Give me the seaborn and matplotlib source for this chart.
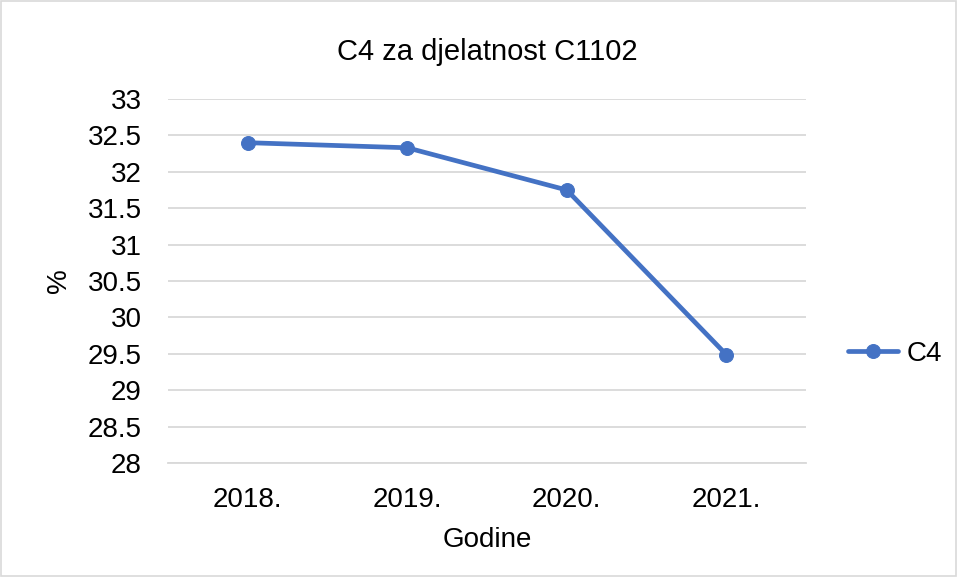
import seaborn as sns
import matplotlib.pyplot as plt
import pandas as pd
from matplotlib.patches import Rectangle

# data
years = ["2018.", "2019.", "2020.", "2021."]
c4_values = [32.40, 32.33, 31.75, 29.49]
y_ticks = [28, 28.5, 29, 29.5, 30, 30.5, 31, 31.5, 32, 32.5, 33]
y_tick_labels = ["28", "28.5", "29", "29.5", "30", "30.5", "31", "31.5", "32", "32.5", "33"]

df = pd.DataFrame({"Godine": years, "C4": c4_values})

sns.set_style("white")
plt.rcParams["font.family"] = ["Liberation Sans", "DejaVu Sans"]
plt.rcParams["text.color"] = "black"

blue = "#4472C4"
grid_grey = "#d9d9d9"
fs = 20

fig = plt.figure(figsize=(9.58, 5.77), dpi=100)
ax = fig.add_axes([0.1754, 0.1976, 0.6659, 0.6308])

sns.lineplot(data=df, x="Godine", y="C4", ax=ax, color=blue, linewidth=3.4,
             marker="o", markersize=10, markeredgecolor=blue, label="C4", sort=False)

ax.set_ylim(28, 33)
ax.set_xlim(-0.5, 3.5)
ax.set_yticks(y_ticks)
ax.set_yticklabels(y_tick_labels)
ax.grid(axis="y", color=grid_grey, linewidth=1.3)
ax.set_axisbelow(True)
for side in ["top", "right", "left"]:
    ax.spines[side].set_visible(False)
ax.spines["bottom"].set_color(grid_grey)
ax.spines["bottom"].set_linewidth(1.3)
ax.tick_params(axis="y", length=0, labelsize=fs, colors="black", pad=19)
ax.tick_params(axis="x", length=0, labelsize=fs, colors="black", pad=17)

ax.set_title("C4 za djelatnost C1102", fontsize=21, pad=28, color="black")
ax.set_xlabel("Godine", fontsize=fs, color="black")
ax.set_ylabel("%", fontsize=fs, color="black")
ax.xaxis.set_label_coords(0.5, -0.175)
ax.yaxis.set_label_coords(-0.15, 0.5)

leg = ax.legend(loc="center left", bbox_to_anchor=(1.027, 0.30), frameon=False,
                fontsize=fs, handlelength=1.8, handletextpad=0.3)

# light border around the whole chart area
fig.patches.append(Rectangle((0.001, 0.001), 0.997, 0.997, transform=fig.transFigure,
                             fill=False, edgecolor=grid_grey, linewidth=1.2))

fig.savefig("out.png", dpi=100)
plt.close(fig)
